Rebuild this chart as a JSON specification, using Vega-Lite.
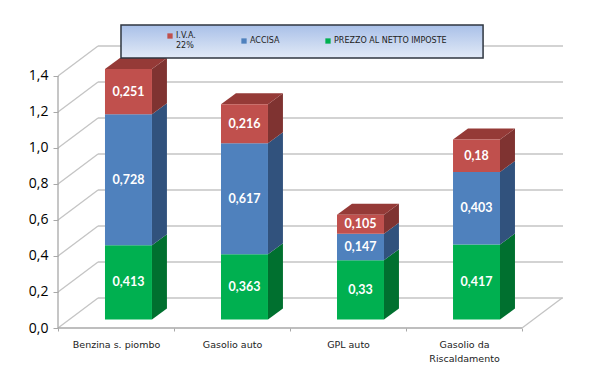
{
"$schema":"https://vega.github.io/schema/vega-lite/v6.json",
"width":505,"height":308,
"autosize":{"type":"none"},
"padding":{"left":58,"top":20,"right":36,"bottom":47},
"background":"white",
"config":{"view":{"stroke":null}},
"datasets":{
"bars":[
{"fuel":"Benzina s. piombo","n":0,"series":"PREZZO AL NETTO IMPOSTE","rank":0,"value":0.413},
{"fuel":"Benzina s. piombo","n":0,"series":"ACCISA","rank":1,"value":0.728},
{"fuel":"Benzina s. piombo","n":0,"series":"I.V.A. 22%","rank":2,"value":0.251},
{"fuel":"Gasolio auto","n":1,"series":"PREZZO AL NETTO IMPOSTE","rank":0,"value":0.363},
{"fuel":"Gasolio auto","n":1,"series":"ACCISA","rank":1,"value":0.617},
{"fuel":"Gasolio auto","n":1,"series":"I.V.A. 22%","rank":2,"value":0.216},
{"fuel":"GPL auto","n":2,"series":"PREZZO AL NETTO IMPOSTE","rank":0,"value":0.33},
{"fuel":"GPL auto","n":2,"series":"ACCISA","rank":1,"value":0.147},
{"fuel":"GPL auto","n":2,"series":"I.V.A. 22%","rank":2,"value":0.105},
{"fuel":"Gasolio da Riscaldamento","n":3,"series":"PREZZO AL NETTO IMPOSTE","rank":0,"value":0.417},
{"fuel":"Gasolio da Riscaldamento","n":3,"series":"ACCISA","rank":1,"value":0.403},
{"fuel":"Gasolio da Riscaldamento","n":3,"series":"I.V.A. 22%","rank":2,"value":0.18}
],
"ticks":[{"v":0},{"v":0.2},{"v":0.4},{"v":0.6},{"v":0.8},{"v":1.0},{"v":1.2},{"v":1.4}]
},
"layer":[
{"data":{"name":"ticks"},
 "transform":[{"calculate":"datum.v+0.1667","as":"b"}],
 "mark":{"type":"rule","color":"#c4c4c4","strokeWidth":1.3},
 "encoding":{
  "x":{"datum":0,"type":"quantitative","scale":{"domain":[0,4.353],"nice":false,"zero":false},"axis":{"title":null,"values":[0,0.5,1,1.5,2,2.5,3,3.5,4],"grid":false,"domain":false,"tickColor":"#a8a8a8","tickSize":3,"tickOpacity":{"condition":{"test":"datum.value % 1 === 0","value":1},"value":0},"labelOverlap":false,"labelFont":"DejaVu Sans","labelFontSize":9.5,"labelColor":"#222222","labelPadding":8,"labelLineHeight":14,"labelExpr":"datum.value===0.5?'Benzina s. piombo':datum.value===1.5?'Gasolio auto':datum.value===2.5?'GPL auto':datum.value===3.5?['Gasolio da','Riscaldamento']:''"}},
  "x2":{"datum":0.345},
  "y":{"field":"v","type":"quantitative","scale":{"domain":[0,1.711],"nice":false,"zero":false},"axis":{"title":null,"values":[0,0.2,0.4,0.6,0.8,1.0,1.2,1.4],"grid":false,"domain":false,"tickColor":"#a8a8a8","tickSize":5,"labelFont":"Open Sans","labelFontSize":14,"labelColor":"#000000","labelPadding":5,"labelExpr":"replace(format(datum.value,'.1f'),'.',',')"}},
  "y2":{"field":"b"}
 }},
{"data":{"name":"ticks"},
 "transform":[{"calculate":"datum.v+0.1667","as":"b"}],
 "mark":{"type":"rule","color":"#c4c4c4","strokeWidth":1.3},
 "encoding":{
  "x":{"datum":0.345,"type":"quantitative"},
  "x2":{"datum":4.353},
  "y":{"field":"b","type":"quantitative"}
 }},
{"data":{"values":[{"f":0,"t":0}]},
 "mark":{"type":"rule","color":"#a8a8a8","strokeWidth":1.3},
 "encoding":{"x":{"datum":0,"type":"quantitative"},"x2":{"datum":4},"y":{"datum":0,"type":"quantitative"}}},
{"data":{"values":[{"f":0,"t":0}]},
 "mark":{"type":"rule","color":"#a8a8a8","strokeWidth":1.3},
 "encoding":{"x":{"datum":0,"type":"quantitative"},"y":{"datum":0,"type":"quantitative"},"y2":{"datum":1.4}}},
{"data":{"values":[{"f":0,"t":0}]},
 "mark":{"type":"rule","color":"#c4c4c4","strokeWidth":1.3},
 "encoding":{"x":{"datum":4,"type":"quantitative"},"x2":{"datum":4.345},"y":{"datum":0,"type":"quantitative"},"y2":{"datum":0.1667}}},
{"data":{"name":"bars"},
 "transform":[
  {"stack":"value","groupby":["fuel"],"sort":[{"field":"rank"}],"as":["y0","y1"]},
  {"calculate":"[0,1]","as":"e"},{"flatten":["e"]},
  {"calculate":"datum.n+0.81+0.129*datum.e","as":"sx"},
  {"calculate":"datum.y0+0.047+0.061*datum.e","as":"sa"},
  {"calculate":"datum.y1+0.047+0.061*datum.e","as":"sb"},
  {"calculate":"datum.rank===2?'#7f3331':datum.rank===1?'#31527d':'#00702f'","as":"shade"}
 ],
 "mark":{"type":"area","orient":"vertical"},
 "encoding":{
  "x":{"field":"sx","type":"quantitative"},
  "y":{"field":"sa","type":"quantitative","stack":null},
  "y2":{"field":"sb"},
  "color":{"field":"shade","type":"nominal","scale":null},
  "detail":{"field":"fuel"}
 }},
{"data":{"name":"bars"},
 "transform":[
  {"stack":"value","groupby":["fuel"],"sort":[{"field":"rank"}],"as":["y0","y1"]},
  {"filter":"datum.rank===2"},
  {"calculate":"[0,1]","as":"e"},{"flatten":["e"]},
  {"calculate":"datum.n+0.405+0.129*datum.e","as":"ta"},
  {"calculate":"datum.n+0.81+0.129*datum.e","as":"tb"},
  {"calculate":"datum.y1+0.047+0.061*datum.e","as":"ty"}
 ],
 "mark":{"type":"area","orient":"horizontal","color":"#953a37"},
 "encoding":{
  "y":{"field":"ty","type":"quantitative"},
  "x":{"field":"ta","type":"quantitative","stack":null},
  "x2":{"field":"tb"},
  "detail":{"field":"fuel"}
 }},
{"data":{"name":"bars"},
 "transform":[
  {"stack":"value","groupby":["fuel"],"sort":[{"field":"rank"}],"as":["y0","y1"]},
  {"calculate":"datum.n+0.405","as":"xa"},{"calculate":"datum.n+0.81","as":"xb"},
  {"calculate":"datum.y0+0.047","as":"ya"},{"calculate":"datum.y1+0.047","as":"yb"}
 ],
 "mark":{"type":"rect"},
 "encoding":{
  "x":{"field":"xa","type":"quantitative"},
  "x2":{"field":"xb"},
  "y":{"field":"ya","type":"quantitative"},
  "y2":{"field":"yb"},
  "color":{"field":"series","type":"nominal",
   "scale":{"domain":["I.V.A. 22%","ACCISA","PREZZO AL NETTO IMPOSTE"],"range":["#c0504d","#4f81bd","#00b050"]},
   "legend":{"title":null,"orient":"none","legendX":108,"legendY":12,"direction":"horizontal","columns":3,"columnPadding":44,"symbolType":"square","symbolSize":28,"symbolStrokeWidth":0,"labelFont":"DejaVu Sans","labelFontSize":8,"labelColor":"#222222","labelOffset":2,"labelLimit":200,"labelLineHeight":11,"labelExpr":"datum.label==='I.V.A. 22%'?['I.V.A.','22%']:datum.label"}
  }
 }},
{"data":{"name":"bars"},
 "transform":[
  {"stack":"value","groupby":["fuel"],"sort":[{"field":"rank"}],"as":["y0","y1"]},
  {"calculate":"datum.n+0.6075","as":"xc"},
  {"calculate":"(datum.y0+datum.y1)/2+0.047","as":"yc"},
  {"calculate":"replace(''+datum.value,'.',',')","as":"lab"}
 ],
 "mark":{"type":"text","font":"Lato","fontWeight":"bold","fontSize":12.5,"color":"white"},
 "encoding":{
  "x":{"field":"xc","type":"quantitative"},
  "y":{"field":"yc","type":"quantitative"},
  "text":{"field":"lab"}
 }},
{"data":{"values":[{"f":0,"t":0}]},
 "mark":{"type":"rect","stroke":"#2f3640","strokeWidth":1.5,"fill":{"gradient":"linear","x1":0,"y1":0,"x2":0,"y2":1,"stops":[{"offset":0,"color":"#a9c0e8"},{"offset":1,"color":"#e2eaf7"}]}},
 "encoding":{"x":{"datum":0.543,"type":"quantitative"},"x2":{"datum":3.664},"y":{"datum":1.683,"type":"quantitative"},"y2":{"datum":1.5}}}
]
}
